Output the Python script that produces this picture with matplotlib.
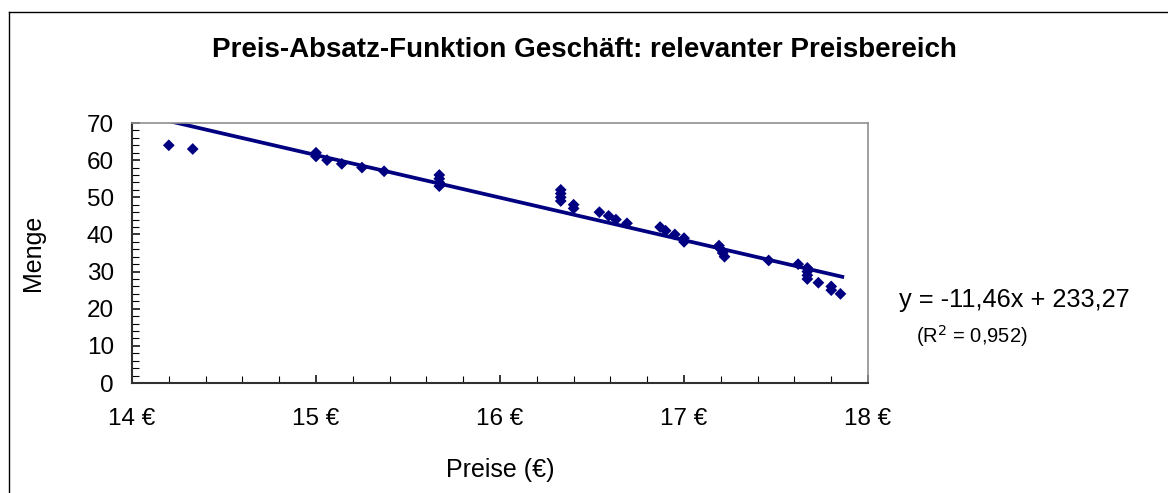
import matplotlib
matplotlib.use("Agg")
import matplotlib.pyplot as plt
from matplotlib.lines import Line2D
from matplotlib.ticker import MultipleLocator, FuncFormatter

plt.rcParams['font.family'] = ['Liberation Sans', 'DejaVu Sans']

# Preis (EUR) und Menge
preise = [14.20, 14.33, 15.00, 15.00, 15.06, 15.14, 15.25, 15.37,
          15.67, 15.67, 15.67, 15.67,
          16.33, 16.33, 16.33, 16.33, 16.40, 16.40,
          16.54, 16.59, 16.63, 16.69, 16.87, 16.90, 16.95, 17.00, 17.00,
          17.19, 17.20, 17.21, 17.22, 17.46, 17.62,
          17.67, 17.67, 17.67, 17.67, 17.73, 17.80, 17.80, 17.85]
menge = [64, 63, 62, 61, 60, 59, 58, 57,
         56, 55, 54, 53,
         52, 51, 50, 49, 48, 47,
         46, 45, 44, 43, 42, 41, 40, 39, 38,
         37, 36, 35, 34, 33, 32,
         31, 30, 29, 28, 27, 26, 25, 24]

# Trendlinie
steigung = -11.46
achsenabschnitt = 233.27
trend_x = [14.0, 17.86]

navy = '#000080'

fig = plt.figure(figsize=(11.68, 4.93), dpi=100)
ax = fig.add_axes([0.113, 0.2231, 0.6302, 0.5274])

trend_y = [steigung * x + achsenabschnitt for x in trend_x]
ax.plot(trend_x, trend_y, color=navy, lw=2.7, zorder=2)
ax.scatter(preise, menge, marker='D', s=36, color=navy, edgecolors='none', zorder=3)

ax.set_xlim(14, 18)
ax.set_ylim(0, 70)
ax.xaxis.set_major_locator(MultipleLocator(1))
ax.xaxis.set_minor_locator(MultipleLocator(0.2))
ax.yaxis.set_major_locator(MultipleLocator(10))
ax.yaxis.set_minor_locator(MultipleLocator(2))
ax.xaxis.set_major_formatter(FuncFormatter(lambda v, p: f"{int(round(v))} €"))

ax.tick_params(which='both', direction='in', colors='black', labelsize=17.5)
ax.tick_params(which='major', length=6, width=1.1)
ax.tick_params(which='minor', length=5, width=0.8)
ax.tick_params(axis='y', which='major', pad=13)
ax.tick_params(axis='x', which='major', pad=18)

for side in ['top', 'right']:
    ax.spines[side].set_color('#909090')
    ax.spines[side].set_linewidth(1.2)
for side in ['left', 'bottom']:
    ax.spines[side].set_color('#303030')
    ax.spines[side].set_linewidth(1.5)

ax.set_xlabel("Preise (€)", fontsize=18, labelpad=20)
ax.set_ylabel("Menge", fontsize=18, labelpad=30)

fig.text(0.5, 0.898, "Preis-Absatz-Funktion Geschäft: relevanter Preisbereich",
         ha='center', va='center', fontsize=20, fontweight='bold')
fig.text(0.770, 0.392, "y = -11,46x + 233,27", ha='left', va='center', fontsize=18.3)
fig.text(0.784, 0.318, "(R$^2$ = 0,952)", ha='left', va='center', fontsize=14.5)

# Rahmen des Diagrammbereichs
fig.add_artist(Line2D([9 / 1168, 9 / 1168], [0, 1 - 12 / 493], color='black', lw=1,
                      transform=fig.transFigure))
fig.add_artist(Line2D([9 / 1168, 1], [1 - 12 / 493, 1 - 12 / 493], color='black', lw=1,
                      transform=fig.transFigure))

fig.savefig("out.png", dpi=100)
